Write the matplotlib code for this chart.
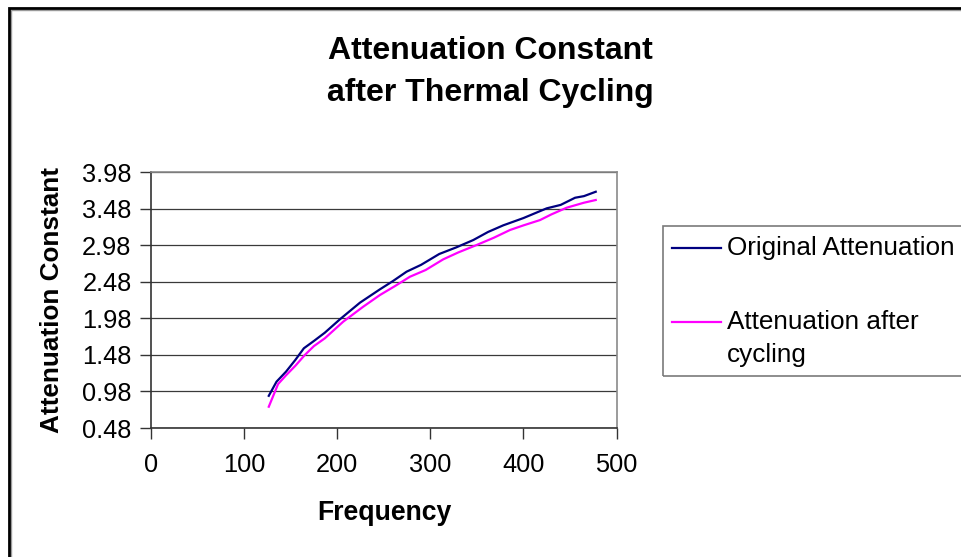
import matplotlib
matplotlib.use("Agg")
import matplotlib.pyplot as plt
from matplotlib.lines import Line2D
from matplotlib.patches import Rectangle

plt.rcParams['font.family'] = ['Liberation Sans', 'DejaVu Sans']

# Frequency sweep and attenuation readings
freq_orig = [126.5, 134.8, 145, 155, 164.2, 175, 186.7, 202.9, 224.4, 245.9, 260, 274.5,
             290, 309.6, 328, 346.2, 362, 378.4, 400, 425, 440, 455.5, 465, 477.7]
atten_orig = [0.92, 1.113, 1.25, 1.41, 1.57, 1.67, 1.783, 1.966, 2.193, 2.376, 2.49, 2.617,
              2.71, 2.859, 2.95, 3.05, 3.16, 3.251, 3.35, 3.483, 3.53, 3.628, 3.65, 3.71]

freq_cyc = [126.5, 136.5, 145, 155, 165.2, 175, 186.7, 206.4, 227.9, 245.9, 262, 278.1,
            295, 313.9, 330, 349.8, 368, 385.6, 400, 417.9, 430, 446.5, 465, 477.7]
atten_cyc = [0.771, 1.081, 1.2, 1.33, 1.478, 1.6, 1.706, 1.933, 2.138, 2.298, 2.42, 2.548,
             2.64, 2.786, 2.88, 2.982, 3.08, 3.187, 3.25, 3.323, 3.4, 3.492, 3.56, 3.597]

x_ticks = [0, 100, 200, 300, 400, 500]
y_ticks = [0.48, 0.98, 1.48, 1.98, 2.48, 2.98, 3.48, 3.98]

W, H = 961, 557
fig = plt.figure(figsize=(W / 100, H / 100), dpi=100)


def fx(px):
    return px / W


def fy(py):
    return 1 - py / H


# Outer chart frame
fig.add_artist(Rectangle((fx(11), fy(H + 10)), fx(W + 20), (H + 10 - 10) / H,
                         transform=fig.transFigure, fill=False, edgecolor='#9a9a9a', lw=1))
fig.add_artist(Rectangle((fx(9), fy(H + 10)), fx(W + 20), (H + 10 - 8) / H,
                         transform=fig.transFigure, fill=False, edgecolor='black', lw=2))

left, right, top, bottom = 151, 616.5, 172, 428
ax = fig.add_axes([fx(left), fy(bottom), fx(right - left), (bottom - top) / H])

ax.plot(freq_orig, atten_orig, color='#000080', lw=1.6)
ax.plot(freq_cyc, atten_cyc, color='#ff00ff', lw=1.6)

ax.set_xlim(0, 500)
ax.set_ylim(0.48, 3.98)
ax.set_xticks(x_ticks)
ax.set_yticks(y_ticks)
ax.set_xticklabels([str(v) for v in x_ticks])
ax.set_yticklabels([f"{v:.2f}" for v in y_ticks])
ax.grid(axis='y', color='#3a3a3a', lw=0.9)
ax.set_axisbelow(True)

for s in ['top', 'right']:
    ax.spines[s].set_color('#8a8a8a')
    ax.spines[s].set_linewidth(1.2)
for s in ['left', 'bottom']:
    ax.spines[s].set_color('#333333')
    ax.spines[s].set_linewidth(1.2)

ax.tick_params(axis='both', direction='out', length=8, width=1, color='#333333',
               labelsize=18.3, labelcolor='black')
ax.tick_params(axis='x', pad=10)
ax.tick_params(axis='y', pad=6)

title_kw = dict(ha='center', va='center', fontsize=23, fontweight='bold')
fig.text(fx(490), fy(51), "Attenuation Constant", **title_kw)
fig.text(fx(490), fy(93), "after Thermal Cycling", **title_kw)
fig.text(fx(52), fy(300), "Attenuation Constant", rotation=90, ha='center', va='center',
         fontsize=18.8, fontweight='bold')
fig.text(fx(384), fy(513), "Frequency", ha='center', va='center',
         fontsize=19.2, fontweight='bold')

# Legend box
lx0, ly0, ly1 = 663, 226, 376
fig.add_artist(Rectangle((fx(lx0), fy(ly1)), fx(W + 20 - lx0), (ly1 - ly0) / H,
                         transform=fig.transFigure, fill=False, edgecolor='#7a7a7a', lw=1.2))
fig.add_artist(Line2D([fx(672), fx(721)], [fy(248), fy(248)], transform=fig.transFigure,
                      color='#000080', lw=1.6))
fig.add_artist(Line2D([fx(672), fx(721)], [fy(322), fy(322)], transform=fig.transFigure,
                      color='#ff00ff', lw=1.6))
leg_kw = dict(ha='left', va='center', fontsize=18.8)
fig.text(fx(727), fy(248), "Original Attenuation", **leg_kw)
fig.text(fx(727), fy(322), "Attenuation after", **leg_kw)
fig.text(fx(727), fy(355), "cycling", **leg_kw)

fig.savefig("out.png", dpi=100)
